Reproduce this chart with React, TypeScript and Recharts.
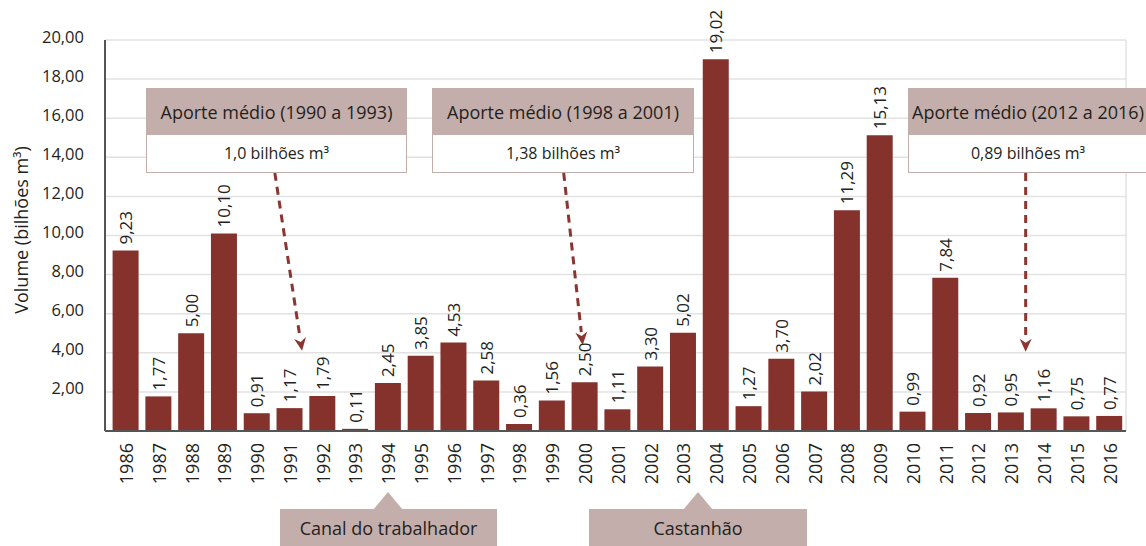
import React from 'react';
import { BarChart, Bar, XAxis, YAxis, CartesianGrid, LabelList, ReferenceLine } from 'recharts';

const years = [1986, 1987, 1988, 1989, 1990, 1991, 1992, 1993, 1994, 1995, 1996, 1997, 1998, 1999, 2000, 2001, 2002, 2003, 2004, 2005, 2006, 2007, 2008, 2009, 2010, 2011, 2012, 2013, 2014, 2015, 2016];
const volumes = [9.23, 1.77, 5.0, 10.1, 0.91, 1.17, 1.79, 0.11, 2.45, 3.85, 4.53, 2.58, 0.36, 1.56, 2.5, 1.11, 3.3, 5.02, 19.02, 1.27, 3.7, 2.02, 11.29, 15.13, 0.99, 7.84, 0.92, 0.95, 1.16, 0.75, 0.77];
const yTicks = [2, 4, 6, 8, 10, 12, 14, 16, 18, 20];

const averageTitles = ['Aporte médio (1990 a 1993)', 'Aporte médio (1998 a 2001)', 'Aporte médio (2012 a 2016)'];
const averageValues = ['1,0 bilhões m³', '1,38 bilhões m³', '0,89 bilhões m³'];
// arrow start / end in data coordinates (year, volume)
const arrowFrom = [[1990.54, 13.2], [1999.35, 13.2], [2013.44, 13.2]];
const arrowTo = [[1991.37, 4.1], [1999.93, 4.4], [2013.44, 4.05]];
const eventLabels = ['Canal do trabalhador', 'Castanhão'];

const data = years.map((year, i) => ({ year, volume: volumes[i] }));

const FONT = "'Open Sans', sans-serif";
const TEXT = '#231f20';
const BAR = '#85322d';
const PINK = '#c4aeab';

const fmt = (v: number) => v.toFixed(2).replace('.', ',');

const ValueLabel = (props: any) => {
  const { x, y, width, value } = props;
  const cx = x + width / 2;
  const ty = y - 6;
  return (
    <text
      x={cx}
      y={ty}
      transform={`rotate(-90, ${cx}, ${ty})`}
      textAnchor="start"
      dominantBaseline="central"
      fontFamily={FONT}
      fontSize={17}
      fill={TEXT}
    >
      {fmt(Number(value))}
    </text>
  );
};

const XTick = (props: any) => {
  const { x, y, payload } = props;
  return (
    <text
      x={x}
      y={y}
      transform={`rotate(-90, ${x}, ${y})`}
      textAnchor="end"
      dominantBaseline="central"
      fontFamily={FONT}
      fontSize={18}
      fill={TEXT}
    >
      {payload.value}
    </text>
  );
};

const YTick = (props: any) => {
  const { x, y, payload } = props;
  return (
    <text x={x} y={y - 4} textAnchor="end" dominantBaseline="central" fontFamily={FONT} fontSize={16.5} fill={TEXT}>
      {fmt(Number(payload.value))}
    </text>
  );
};

const ArrowShape = (props: any) => {
  const { x1, y1, x2, y2 } = props;
  const dx = x2 - x1;
  const dy = y2 - y1;
  const len = Math.sqrt(dx * dx + dy * dy);
  const ux = dx / len;
  const uy = dy / len;
  const head = 13;
  const half = 6;
  const bx = x2 - ux * head;
  const by = y2 - uy * head;
  const px = -uy;
  const py = ux;
  return (
    <g>
      <line x1={x1} y1={y1} x2={bx} y2={by} stroke="#8b3530" strokeWidth={3} strokeDasharray="8 6" />
      <polygon
        points={`${x2},${y2} ${bx + px * half},${by + py * half} ${bx + ux * 4},${by + uy * 4} ${bx - px * half},${by - py * half}`}
        fill="#8b3530"
      />
    </g>
  );
};

const boxLayout = [
  { left: 146, width: 261 },
  { left: 432, width: 262 },
  { left: 908, width: 240 },
];

const eventLayout = [
  { left: 280, width: 217, tip: 388 },
  { left: 589, width: 218, tip: 698 },
];

export default function App() {
  return (
    <div style={{ position: 'absolute', left: 0, top: 0, width: 1146, height: 546, overflow: 'hidden', background: '#fff' }}>
      <BarChart width={1146} height={546} data={data} margin={{ top: 40, right: 20, left: 45, bottom: 55 }}>
        <CartesianGrid vertical={false} stroke="#e2e2e2" strokeWidth={1.5} />
        <ReferenceLine x={2016.5} stroke="#e2e2e2" strokeWidth={1.5} />
        <XAxis
          dataKey="year"
          type="number"
          domain={[1985.36, 2016.5]}
          allowDataOverflow={true}
          ticks={years}
          interval={0}
          tick={<XTick />}
          tickLine={false}
          tickSize={0}
          tickMargin={12}
          height={60}
          axisLine={{ stroke: '#555', strokeWidth: 2 }}
        />
        <YAxis
          type="number"
          domain={[0, 20]}
          ticks={yTicks}
          interval={0}
          tick={<YTick />}
          tickLine={false}
          tickSize={0}
          tickMargin={21}
          width={60}
          axisLine={{ stroke: '#555', strokeWidth: 2 }}
          label={{
            content: () => (
              <text
                x={21}
                y={230}
                transform="rotate(-90, 21, 230)"
                textAnchor="middle"
                dominantBaseline="central"
                fontFamily={FONT}
                fontSize={18}
                fill={TEXT}
              >
                Volume (bilhões m³)
              </text>
            ),
          }}
        />
        <Bar dataKey="volume" fill={BAR} barSize={26} isAnimationActive={false}>
          <LabelList dataKey="volume" content={<ValueLabel />} />
        </Bar>
        {arrowFrom.map((p, i) => (
          <ReferenceLine
            key={i}
            segment={[{ x: p[0], y: p[1] }, { x: arrowTo[i][0], y: arrowTo[i][1] }]}
            shape={<ArrowShape />}
            ifOverflow="visible"
          />
        ))}
      </BarChart>

      {averageTitles.map((t, i) => (
        <div
          key={t}
          style={{
            position: 'absolute',
            left: boxLayout[i].left,
            top: 88,
            width: boxLayout[i].width,
            boxSizing: 'border-box',
            border: `1px solid ${PINK}`,
            background: '#fff',
            fontFamily: FONT,
            color: TEXT,
            textAlign: 'center',
            whiteSpace: 'nowrap',
          }}
        >
          <div style={{ background: PINK, height: 46, lineHeight: '46px', fontSize: 18 }}>{t}</div>
          <div style={{ height: 37, lineHeight: '37px', fontSize: 16 }}>{averageValues[i]}</div>
        </div>
      ))}

      {eventLabels.map((t, i) => {
        const e = eventLayout[i];
        return (
          <React.Fragment key={t}>
            <svg
              style={{ position: 'absolute', left: e.tip - 16, top: 492 }}
              width={32}
              height={18}
            >
              <polygon points="16,0 31,18 1,18" fill={PINK} />
            </svg>
            <div
              style={{
                position: 'absolute',
                left: e.left,
                top: 509,
                width: e.width,
                height: 40,
                background: PINK,
                fontFamily: FONT,
                fontSize: 18,
                color: TEXT,
                textAlign: 'center',
                lineHeight: '38px',
                whiteSpace: 'nowrap',
              }}
            >
              {t}
            </div>
          </React.Fragment>
        );
      })}
    </div>
  );
}
